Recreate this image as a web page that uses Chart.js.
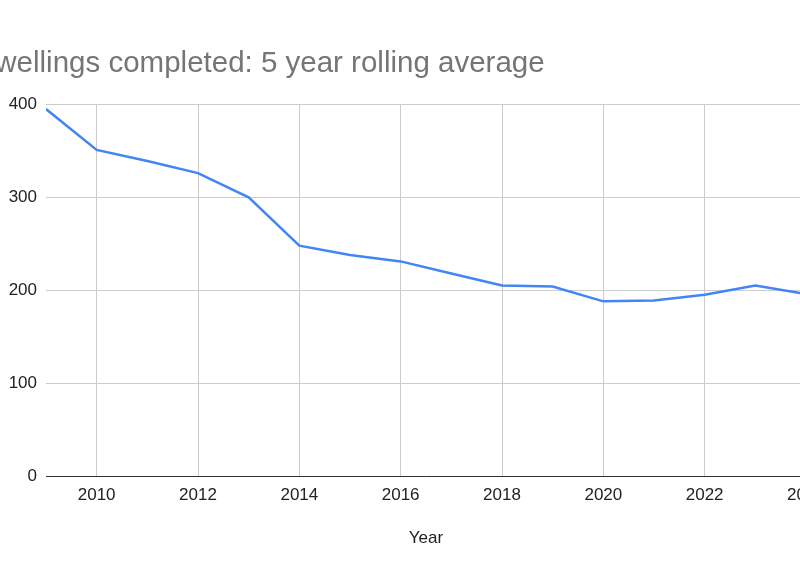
<!DOCTYPE html>
<html lang="en">
<head>
    <meta charset="UTF-8">
    <title>Dwellings completed: 5 year rolling average</title>
    <script src="https://cdn.jsdelivr.net/npm/chart.js"></script>
    <style>
        html, body {
            margin: 0;
            padding: 0;
            background: #fff;
            overflow: hidden;
            width: 800px;
            height: 573px;
        }
        .chart-wrap {
            position: absolute;
            left: -26px;
            top: 0;
            width: 880px;
            height: 573px;
        }
    </style>
</head>
<body>
    <div class="chart-wrap">
        <canvas id="lineChart"></canvas>
    </div>

    <script>
        // data
        const years = [2009, 2010, 2011, 2012, 2013, 2014, 2015, 2016, 2017, 2018, 2019, 2020, 2021, 2022, 2023, 2024];
        const dwellings = [395, 351, 339, 326, 300, 248, 238, 231, 218, 205, 204, 188, 189, 195, 205, 196];
        const yTicks = [0, 100, 200, 300, 400];

        const font = "Arial, 'Liberation Sans', sans-serif";

        const ctx = document.getElementById('lineChart').getContext('2d');
        new Chart(ctx, {
            type: 'line',
            data: {
                datasets: [{
                    label: 'Dwellings completed',
                    data: years.map((y, i) => ({ x: y, y: dwellings[i] })),
                    borderColor: '#4285f4',
                    borderWidth: 2.5,
                    pointRadius: 0,
                    tension: 0,
                    fill: false
                }]
            },
            options: {
                responsive: true,
                maintainAspectRatio: false,
                animation: false,
                layout: { padding: { left: 0, right: 48, top: 0, bottom: 0 } },
                plugins: {
                    legend: { display: false },
                    tooltip: { enabled: false },
                    title: {
                        display: true,
                        text: 'Dwellings completed: 5 year rolling average',
                        align: 'start',
                        color: '#757575',
                        font: { family: font, size: 29.5, weight: 'normal', lineHeight: 1.2 },
                        padding: { top: 46, bottom: 23 }
                    }
                },
                scales: {
                    x: {
                        type: 'linear',
                        min: years[0],
                        max: years[years.length - 1],
                        ticks: {
                            stepSize: 2,
                            includeBounds: false,
                            padding: 9,
                            color: '#222',
                            font: { family: font, size: 17 },
                            callback: v => String(v)
                        },
                        grid: { color: '#cccccc', drawTicks: false },
                        border: { display: true, color: '#333333', width: 1 },
                        title: {
                            display: true,
                            text: 'Year',
                            color: '#222',
                            font: { family: font, size: 17, lineHeight: 1.2 },
                            padding: { top: 0, bottom: 24 }
                        },
                        afterFit: scale => { scale.height = 97; }
                    },
                    y: {
                        min: 0,
                        max: 400,
                        afterBuildTicks: scale => { scale.ticks = yTicks.map(v => ({ value: v })); },
                        ticks: {
                            padding: 9,
                            color: '#222',
                            font: { family: font, size: 17 }
                        },
                        grid: { color: '#cccccc', drawTicks: false },
                        border: { display: false },
                        afterFit: scale => { scale.width = 72; }
                    }
                }
            }
        });
    </script>
</body>
</html>
